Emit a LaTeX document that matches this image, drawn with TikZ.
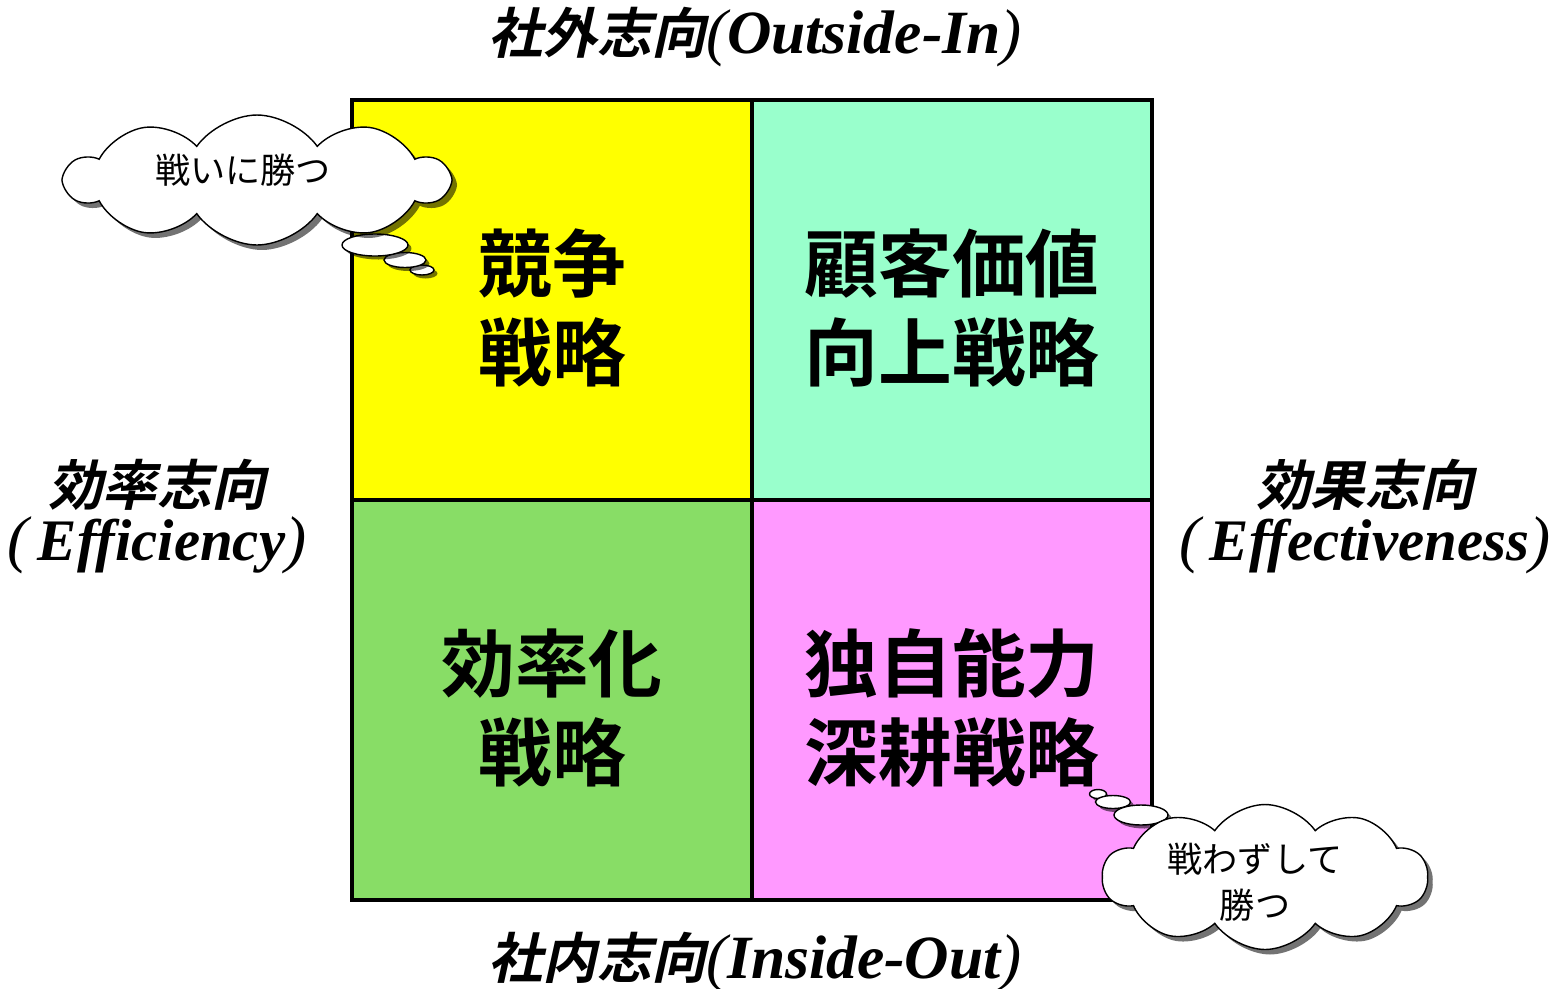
\documentclass[tikz,border=0pt]{standalone}
\usepackage{fontspec}
\usetikzlibrary{shapes.symbols,shapes.geometric,shadows}
\newfontfamily\jpb{Noto Sans CJK JP Bold}
\newfontfamily\jpr{Noto Sans CJK JP}
\newfontfamily\jpbsl{Noto Sans CJK JP Bold}[FakeSlant=0.22]
\newfontfamily\lsbi{Liberation Serif Bold Italic}
\newfontfamily\lsi{Liberation Serif Italic}
\newcommand{\lat}[1]{{\lsbi\fontsize{35}{38}\selectfont #1}}
\newcommand{\lats}[1]{{\lsbi\fontsize{33.5}{38}\selectfont #1}}
\newcommand{\lp}{{\lsi\fontsize{36}{38}\selectfont (}}
\newcommand{\rp}{{\lsi\fontsize{36}{38}\selectfont )}}
\newcommand{\jsl}[1]{{\jpbsl #1}}
\definecolor{qyellow}{HTML}{FFFF00}
\definecolor{qmint}{HTML}{99FFCC}
\definecolor{qgreen}{HTML}{88DD66}
\definecolor{qpink}{HTML}{FF99FF}
\tikzset{
  quad/.style={draw=black, line width=0.08cm, minimum width=8cm, minimum height=8cm, inner sep=0pt},
  quadtext/.style={inner sep=0pt, align=center, font=\jpb\fontsize{42}{51}\selectfont},
  axislabel/.style={inner sep=0pt, align=center, font=\fontsize{31}{34}\selectfont},
  thought/.style={cloud, cloud puffs=10, cloud puff arc=110, cloud ignores aspect, draw=black, line width=0.8pt,
    fill=white, inner sep=0pt,
    drop shadow={shadow xshift=0.1cm, shadow yshift=-0.1cm, fill=black, opacity=0.55}},
  thoughttext/.style={inner sep=0pt, align=center, font=\jpr\fontsize{20}{26}\selectfont},
  bubble/.style={ellipse, draw=black, line width=0.8pt, fill=white, inner sep=0pt,
    drop shadow={shadow xshift=0.07cm, shadow yshift=-0.07cm, fill=black, opacity=0.55}},
}
\begin{document}
\begin{tikzpicture}[x=0.02cm, y=-0.02cm]
\useasboundingbox (0,0) rectangle (1562,988);
\node[quad, fill=qyellow] (q1) at (552,300) {};
\node[quad, fill=qmint] (q2) at (952,300) {};
\node[quad, fill=qgreen] (q3) at (552,700) {};
\node[quad, fill=qpink] (q4) at (952,700) {};
\node[quadtext] (t1) at (552,308) {競争\\戦略};
\node[quadtext] (t2) at (952,308) {顧客価値\\向上戦略};
\node[quadtext] (t3) at (552,708) {効率化\\戦略};
\node[quadtext] (t4) at (952,708) {独自能力\\深耕戦略};

\node[axislabel] (top) at (755,37) {\jsl{社外志向}\lp\lat{Outside-In}\rp};
\node[axislabel] (bottom) at (755,962) {\jsl{社内志向}\lp\lat{Inside-Out}\rp};
\node[axislabel] (left) at (157,485) {\jsl{効率志向}};
\node[axislabel] (left2) at (157,545) {\lp\,\lats{Efficiency}\rp};
\node[axislabel] (right) at (1365,485) {\jsl{効果志向}};
\node[axislabel] (right2) at (1365,545) {\lp\,\lats{Effectiveness}\rp};

% upper-left thought cloud
\node[bubble, minimum width=0.48cm, minimum height=0.2cm] (b13) at (422,270) {};
\node[bubble, minimum width=0.84cm, minimum height=0.3cm] (b12) at (405,260) {};
\node[bubble, minimum width=1.32cm, minimum height=0.44cm] (b11) at (375,245) {};
\node[thought, minimum width=7.65cm, minimum height=2.6cm] (c1) at (257,180) {};
\node[thoughttext] (c1t) at (243,170) {戦いに勝つ};

% lower-right thought cloud
\node[bubble, minimum width=0.34cm, minimum height=0.18cm] (b23) at (1098,794) {};
\node[bubble, minimum width=0.7cm, minimum height=0.26cm] (b22) at (1113,802) {};
\node[bubble, minimum width=1.08cm, minimum height=0.4cm] (b21) at (1141,815) {};
\node[thought, minimum width=6.5cm, minimum height=2.9cm] (c2) at (1265,877) {};
\node[thoughttext] (c2t) at (1255,882) {戦わずして\\勝つ};
\end{tikzpicture}
\end{document}
